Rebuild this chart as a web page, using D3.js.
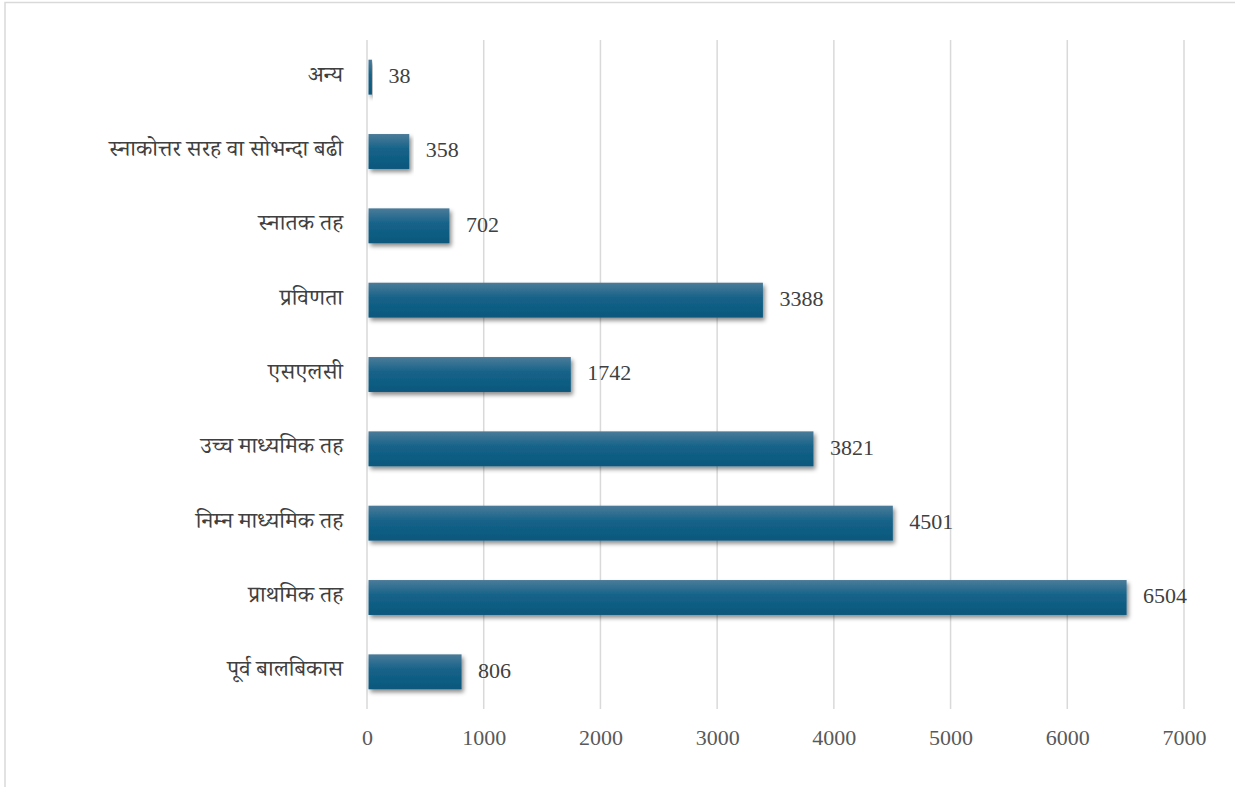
<!DOCTYPE html>
<html>
<head>
<meta charset="utf-8">
<script src="https://cdn.jsdelivr.net/npm/d3@7"></script>
<style>
  html, body { margin: 0; padding: 0; background: #fff; }
  svg { display: block; }
</style>
</head>
<body>
<div id="chart"></div>
<script>
const categories = ["अन्य", "स्नाकोत्तर सरह वा सोभन्दा बढी", "स्नातक तह", "प्रविणता", "एसएलसी", "उच्च माध्यमिक तह", "निम्न माध्यमिक तह", "प्राथमिक तह", "पूर्व बालबिकास"];
const values = [38, 358, 702, 3388, 1742, 3821, 4501, 6504, 806];
const xTicks = [0, 1000, 2000, 3000, 4000, 5000, 6000, 7000];

const W = 1235, H = 787;
const svg = d3.select("#chart").append("svg").attr("width", W).attr("height", H);
const defs = svg.append("defs");
const grad = defs.append("linearGradient").attr("id", "barGrad").attr("x1", 0).attr("y1", 0).attr("x2", 0).attr("y2", 1);
grad.append("stop").attr("offset", "0%").attr("stop-color", "#4b7b99");
grad.append("stop").attr("offset", "45%").attr("stop-color", "#146289");
grad.append("stop").attr("offset", "100%").attr("stop-color", "#0b577c");
const f = defs.append("filter").attr("id", "shadow").attr("x", "-5%").attr("y", "-20%").attr("width", "115%").attr("height", "160%");
f.append("feDropShadow").attr("dx", 2).attr("dy", 3).attr("stdDeviation", 2.2).attr("flood-color", "#000").attr("flood-opacity", 0.45);

// outer border
svg.append("rect").attr("x", 5).attr("y", 2.5).attr("width", W + 10).attr("height", H + 10)
  .attr("fill", "none").attr("stroke", "#d9d9d9").attr("stroke-width", 1.5);

const x = d3.scaleLinear().domain([0, 7000]).range([367, 1184]);
const y = d3.scaleBand().domain(categories).range([40, 709]).paddingInner(0.53).paddingOuter(0.265);

const font = "'Liberation Serif', 'Noto Serif Devanagari', 'Noto Sans Devanagari', 'Times New Roman', serif";

// gridlines
svg.append("g").selectAll("line").data(xTicks).join("line")
  .attr("x1", d => x(d)).attr("x2", d => x(d)).attr("y1", 40).attr("y2", 709)
  .attr("stroke", "#d9d9d9").attr("stroke-width", 1.5);

// x axis tick labels
const xAxis = d3.axisBottom(x).tickValues(xTicks).tickSize(0).tickPadding(0).tickFormat(d3.format("d"));
const gx = svg.append("g").attr("transform", "translate(0,729)").call(xAxis);
gx.select(".domain").remove();
gx.selectAll("text").attr("font-family", font).attr("font-size", 22).attr("fill", "#595959");

// y axis labels
const yAxis = d3.axisLeft(y).tickSize(0).tickPadding(0);
const gy = svg.append("g").attr("transform", "translate(343,-3)").call(yAxis);
gy.select(".domain").remove();
gy.selectAll("text").attr("font-family", font).attr("font-size", 23).attr("fill", "#404040");

// bars
svg.append("g").selectAll("rect").data(categories).join("rect")
  .attr("x", x(0) + 1.5)
  .attr("y", d => y(d))
  .attr("width", (d, i) => x(values[i]) - x(0) - 1)
  .attr("height", y.bandwidth())
  .attr("fill", "url(#barGrad)")
  .attr("filter", "url(#shadow)");

// value labels
svg.append("g").selectAll("text").data(categories).join("text")
  .attr("x", (d, i) => x(values[i]) + 17)
  .attr("y", d => y(d) + y.bandwidth() / 2 - 2)
  .attr("dy", "0.35em")
  .attr("font-family", font).attr("font-size", 22).attr("fill", "#404040")
  .text((d, i) => values[i]);
</script>
</body>
</html>
